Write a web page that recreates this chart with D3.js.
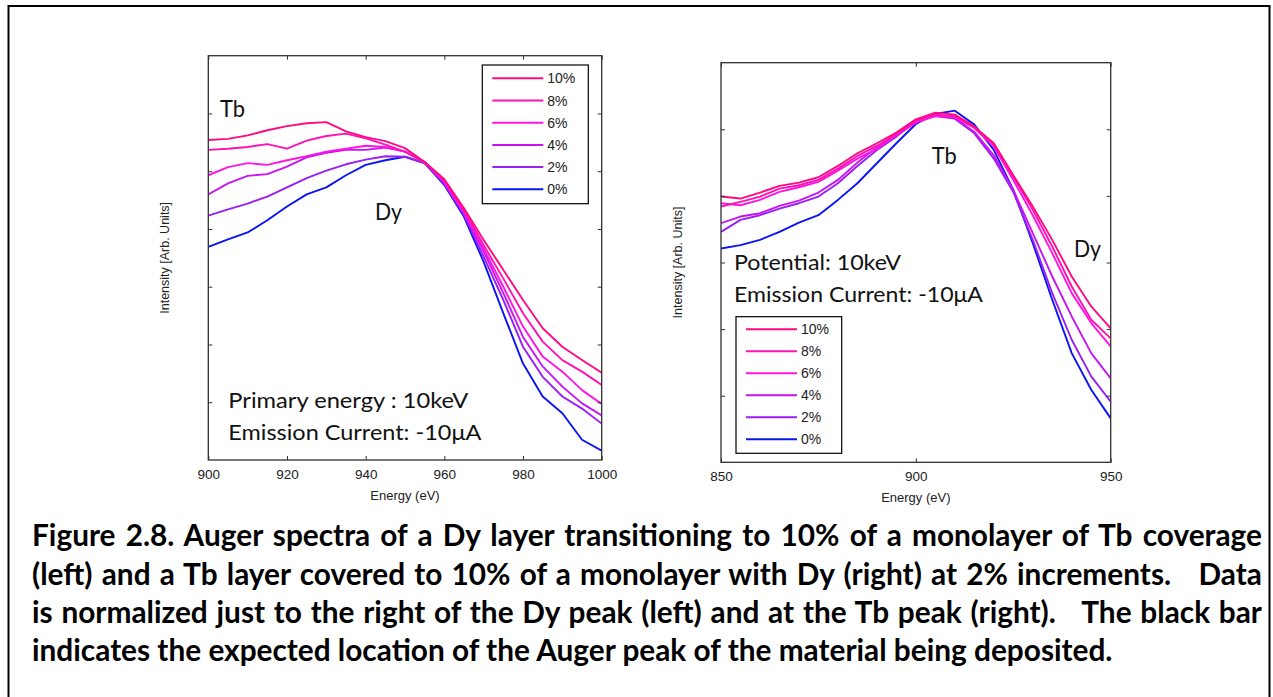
<!DOCTYPE html>
<html>
<head>
<meta charset="utf-8">
<script src="https://cdn.jsdelivr.net/npm/d3@7/dist/d3.min.js"></script>
<style>
  html, body { margin: 0; padding: 0; background: #fff; }
  svg { display: block; }
</style>
</head>
<body>
<script>
// ---- Series labels and colours (Tb / Dy coverage steps) ----
const coverage = ["10%", "8%", "6%", "4%", "2%", "0%"];
const coverageColors = ["#ff0a82", "#ff12b4", "#ff14e6", "#c814f5", "#9a1ef5", "#0a14f5"];

// ---- Left panel: Dy layer with increasing Tb coverage ----
const energyLeft = [900, 905, 910, 915, 920, 925, 930, 935, 940, 945, 950,
                    955, 960, 965, 970, 975, 980, 985, 990, 995, 1000];
const left10 = [5.54, 5.56, 5.62, 5.71, 5.78, 5.83, 5.85, 5.69, 5.59, 5.52, 5.40, 5.16, 4.86, 4.36, 3.81, 3.29, 2.77, 2.28, 1.96, 1.73, 1.51];
const left8  = [5.37, 5.39, 5.42, 5.47, 5.39, 5.53, 5.61, 5.65, 5.57, 5.46, 5.34, 5.15, 4.84, 4.33, 3.72, 3.14, 2.54, 2.05, 1.73, 1.53, 1.30];
const left6  = [4.93, 5.07, 5.14, 5.11, 5.19, 5.26, 5.34, 5.39, 5.44, 5.42, 5.34, 5.16, 4.82, 4.30, 3.66, 3.00, 2.31, 1.79, 1.53, 1.21, 0.97];
const left4  = [4.60, 4.79, 4.92, 4.95, 5.08, 5.24, 5.32, 5.37, 5.37, 5.41, 5.34, 5.16, 4.80, 4.27, 3.61, 2.89, 2.13, 1.62, 1.27, 0.98, 0.77];
const left2  = [4.23, 4.34, 4.44, 4.56, 4.72, 4.88, 5.01, 5.12, 5.20, 5.26, 5.25, 5.14, 4.78, 4.24, 3.52, 2.77, 1.96, 1.44, 1.10, 0.89, 0.63];
const left0  = [3.69, 3.82, 3.94, 4.15, 4.39, 4.60, 4.72, 4.93, 5.11, 5.19, 5.25, 5.14, 4.76, 4.21, 3.43, 2.54, 1.67, 1.10, 0.81, 0.35, 0.16];
const leftXTicks = [900, 920, 940, 960, 980, 1000];
const leftYTicks = [1, 2, 3, 4, 5, 6];

// ---- Right panel: Tb layer with increasing Dy coverage ----
const energyRight = [850, 855, 860, 865, 870, 875, 880, 885, 890, 895, 900,
                     905, 910, 915, 920, 925, 930, 935, 940, 945, 950];
const right10 = [3.99, 3.96, 4.05, 4.15, 4.20, 4.28, 4.45, 4.64, 4.79, 4.95, 5.15, 5.25, 5.22, 5.04, 4.79, 4.31, 3.84, 3.34, 2.79, 2.34, 2.01];
const right8  = [3.84, 3.91, 3.99, 4.11, 4.16, 4.24, 4.41, 4.60, 4.75, 4.93, 5.13, 5.22, 5.20, 5.04, 4.77, 4.29, 3.79, 3.24, 2.64, 2.14, 1.86];
const right6  = [3.89, 3.86, 3.94, 4.06, 4.13, 4.21, 4.38, 4.56, 4.71, 4.91, 5.10, 5.20, 5.18, 5.02, 4.74, 4.24, 3.71, 3.14, 2.54, 2.09, 1.74];
const right4  = [3.59, 3.69, 3.74, 3.85, 3.93, 4.05, 4.24, 4.50, 4.73, 4.92, 5.14, 5.22, 5.17, 4.96, 4.61, 4.09, 3.44, 2.79, 2.19, 1.64, 1.26];
const right2  = [3.46, 3.64, 3.71, 3.81, 3.89, 3.99, 4.19, 4.45, 4.69, 4.89, 5.12, 5.20, 5.16, 4.94, 4.56, 4.06, 3.34, 2.54, 1.84, 1.29, 0.91];
const right0  = [3.21, 3.26, 3.34, 3.46, 3.60, 3.71, 3.94, 4.19, 4.49, 4.79, 5.08, 5.23, 5.28, 5.07, 4.69, 4.09, 3.29, 2.44, 1.64, 1.09, 0.66];
const rightXTicks = [850, 900, 950];
const rightYTicks = [1, 2, 3, 4, 5];

// ---- Caption ----
const captionLines = [
  "Figure 2.8. Auger spectra of a Dy layer transitioning to 10% of a monolayer of Tb coverage",
  "(left) and a Tb layer covered to 10% of a monolayer with Dy (right) at 2% increments.   Data",
  "is normalized just to the right of the Dy peak (left) and at the Tb peak (right).   The black bar",
  "indicates the expected location of the Auger peak of the material being deposited."
];

const W = 1273, H = 697;
const svg = d3.select("body").append("svg").attr("width", W).attr("height", H);

// page frame
svg.append("rect")
  .attr("x", 8.5).attr("y", 6).attr("width", 1261).attr("height", 710)
  .attr("fill", "none").attr("stroke", "#000").attr("stroke-width", 2);

const axisFont = "'Liberation Sans', Arial, sans-serif";
const noteFont = "Lato, 'Open Sans', sans-serif";

function drawPanel(cfg, idx) {
  const x = d3.scaleLinear().domain(cfg.xDomain).range([cfg.left, cfg.right]);
  const y = d3.scaleLinear().domain(cfg.yDomain).range([cfg.bottom, cfg.top]);
  const g = svg.append("g");

  const clipId = "plotclip" + idx;
  g.append("clipPath").attr("id", clipId).append("rect")
    .attr("x", cfg.left).attr("y", cfg.top)
    .attr("width", cfg.right - cfg.left).attr("height", cfg.bottom - cfg.top);

  // series lines
  const line = d3.line().x(d => x(d[0])).y(d => y(d[1]));
  const lines = g.append("g").attr("clip-path", `url(#${clipId})`);
  // blue drawn first so the pink curves sit on top
  cfg.series.slice().reverse().forEach((vals, iRev) => {
    const i = cfg.series.length - 1 - iRev;
    lines.append("path")
      .datum(cfg.energy.map((e, k) => [e, vals[k]]))
      .attr("fill", "none")
      .attr("stroke", coverageColors[i])
      .attr("stroke-width", 1.9)
      .attr("stroke-linejoin", "round")
      .attr("d", line);
  });

  // axes with inward ticks on all four sides
  const tickCol = "#303030";
  const bottom = g.append("g").attr("transform", `translate(0,${cfg.bottom})`)
    .call(d3.axisBottom(x).tickValues(cfg.xTicks).tickSize(-4).tickPadding(9).tickFormat(d3.format("d")));
  const top = g.append("g").attr("transform", `translate(0,${cfg.top})`)
    .call(d3.axisTop(x).tickValues(cfg.xTicks).tickSize(-4).tickFormat(""));
  const leftAx = g.append("g").attr("transform", `translate(${cfg.left},0)`)
    .call(d3.axisLeft(y).tickValues(cfg.yTicks).tickSize(-4).tickFormat(""));
  const rightAx = g.append("g").attr("transform", `translate(${cfg.right},0)`)
    .call(d3.axisRight(y).tickValues(cfg.yTicks).tickSize(-4).tickFormat(""));
  [bottom, top, leftAx, rightAx].forEach(a => {
    a.select(".domain").remove();
    a.selectAll(".tick line").attr("stroke", tickCol).attr("stroke-width", 1);
  });
  bottom.selectAll(".tick text")
    .attr("font-family", axisFont).attr("font-size", 13.5).attr("fill", "#222");

  // box
  g.append("rect")
    .attr("x", cfg.left).attr("y", cfg.top)
    .attr("width", cfg.right - cfg.left).attr("height", cfg.bottom - cfg.top)
    .attr("fill", "none").attr("stroke", tickCol).attr("stroke-width", 1.3);

  // axis titles
  g.append("text")
    .attr("x", (cfg.left + cfg.right) / 2).attr("y", cfg.bottom + 40)
    .attr("text-anchor", "middle")
    .attr("font-family", axisFont).attr("font-size", 13).attr("fill", "#222")
    .text("Energy (eV)");
  g.append("text")
    .attr("transform", `translate(${cfg.yTitleX},${(cfg.top + cfg.bottom) / 2}) rotate(-90)`)
    .attr("text-anchor", "middle")
    .attr("font-family", axisFont).attr("font-size", 12.5).attr("fill", "#222")
    .text("Intensity [Arb. Units]");

  // legend
  const L = cfg.legend;
  g.append("rect")
    .attr("x", L.x).attr("y", L.y).attr("width", L.w).attr("height", L.h)
    .attr("fill", "#fff").attr("stroke", "#000").attr("stroke-width", 1.2);
  coverage.forEach((lab, i) => {
    const yy = L.y + L.first + i * L.step;
    g.append("line")
      .attr("x1", L.x + 10).attr("x2", L.x + 61)
      .attr("y1", yy).attr("y2", yy)
      .attr("stroke", coverageColors[i]).attr("stroke-width", 2);
    g.append("text")
      .attr("x", L.x + 65).attr("y", yy + 5)
      .attr("font-family", axisFont).attr("font-size", 14).attr("fill", "#222")
      .text(lab);
  });

  // annotations
  cfg.notes.forEach(n => {
    const t = g.append("text")
      .attr("x", n.x).attr("y", n.y)
      .attr("font-family", noteFont).attr("font-size", n.size).attr("fill", "#111")
      .text(n.text);
    if (n.len) t.attr("textLength", n.len).attr("lengthAdjust", "spacingAndGlyphs");
  });
}

drawPanel({
  xDomain: [900, 1000], yDomain: [0, 7],
  left: 208.3, right: 601.7, top: 55.7, bottom: 460,
  xTicks: leftXTicks, yTicks: leftYTicks,
  energy: energyLeft,
  series: [left10, left8, left6, left4, left2, left0],
  yTitleX: 169,
  legend: { x: 482.3, y: 65, w: 106, h: 138.7, first: 13.3, step: 22.2 },
  notes: [
    { text: "Tb", x: 220, y: 117, size: 23, len: 25 },
    { text: "Dy", x: 375, y: 220, size: 23, len: 27 },
    { text: "Primary energy : 10keV", x: 228.3, y: 408, size: 21, len: 240 },
    { text: "Emission Current: -10\u03bcA", x: 228.3, y: 440, size: 21, len: 253 }
  ]
}, 0);

drawPanel({
  xDomain: [850, 950], yDomain: [0, 6],
  left: 721, right: 1110.7, top: 62.7, bottom: 462.3,
  xTicks: rightXTicks, yTicks: rightYTicks,
  energy: energyRight,
  series: [right10, right8, right6, right4, right2, right0],
  yTitleX: 682,
  legend: { x: 736, y: 316.7, w: 105.7, h: 136.6, first: 12.6, step: 22 },
  notes: [
    { text: "Tb", x: 931.7, y: 163.5, size: 23, len: 25 },
    { text: "Dy", x: 1074, y: 257, size: 23, len: 27 },
    { text: "Potential: 10keV", x: 734, y: 270, size: 21, len: 167 },
    { text: "Emission Current: -10\u03bcA", x: 734, y: 302, size: 21, len: 249 }
  ]
}, 1);

// caption: bold, justified lines except the last
const capLeft = 32, capRight = 1262, lastLineWidth = 1081;
const capBase = [546, 584.5, 623, 661];
const capG = svg.append("g")
  .attr("font-family", noteFont).attr("font-weight", "bold").attr("fill", "#000");
const probe = capG.append("text").attr("font-size", 24).text(captionLines[3]);
const capSize = 24 * lastLineWidth / probe.node().getComputedTextLength();
probe.remove();
captionLines.forEach((txt, i) => {
  const t = capG.append("text")
    .attr("xml:space", "preserve")
    .attr("x", capLeft).attr("y", capBase[i])
    .attr("font-size", capSize).text(txt);
  if (i < captionLines.length - 1) {
    const natural = t.node().getComputedTextLength();
    const spaces = (txt.match(/ /g) || []).length;
    t.attr("word-spacing", ((capRight - capLeft) - natural) / spaces);
  }
});
</script>
</body>
</html>
